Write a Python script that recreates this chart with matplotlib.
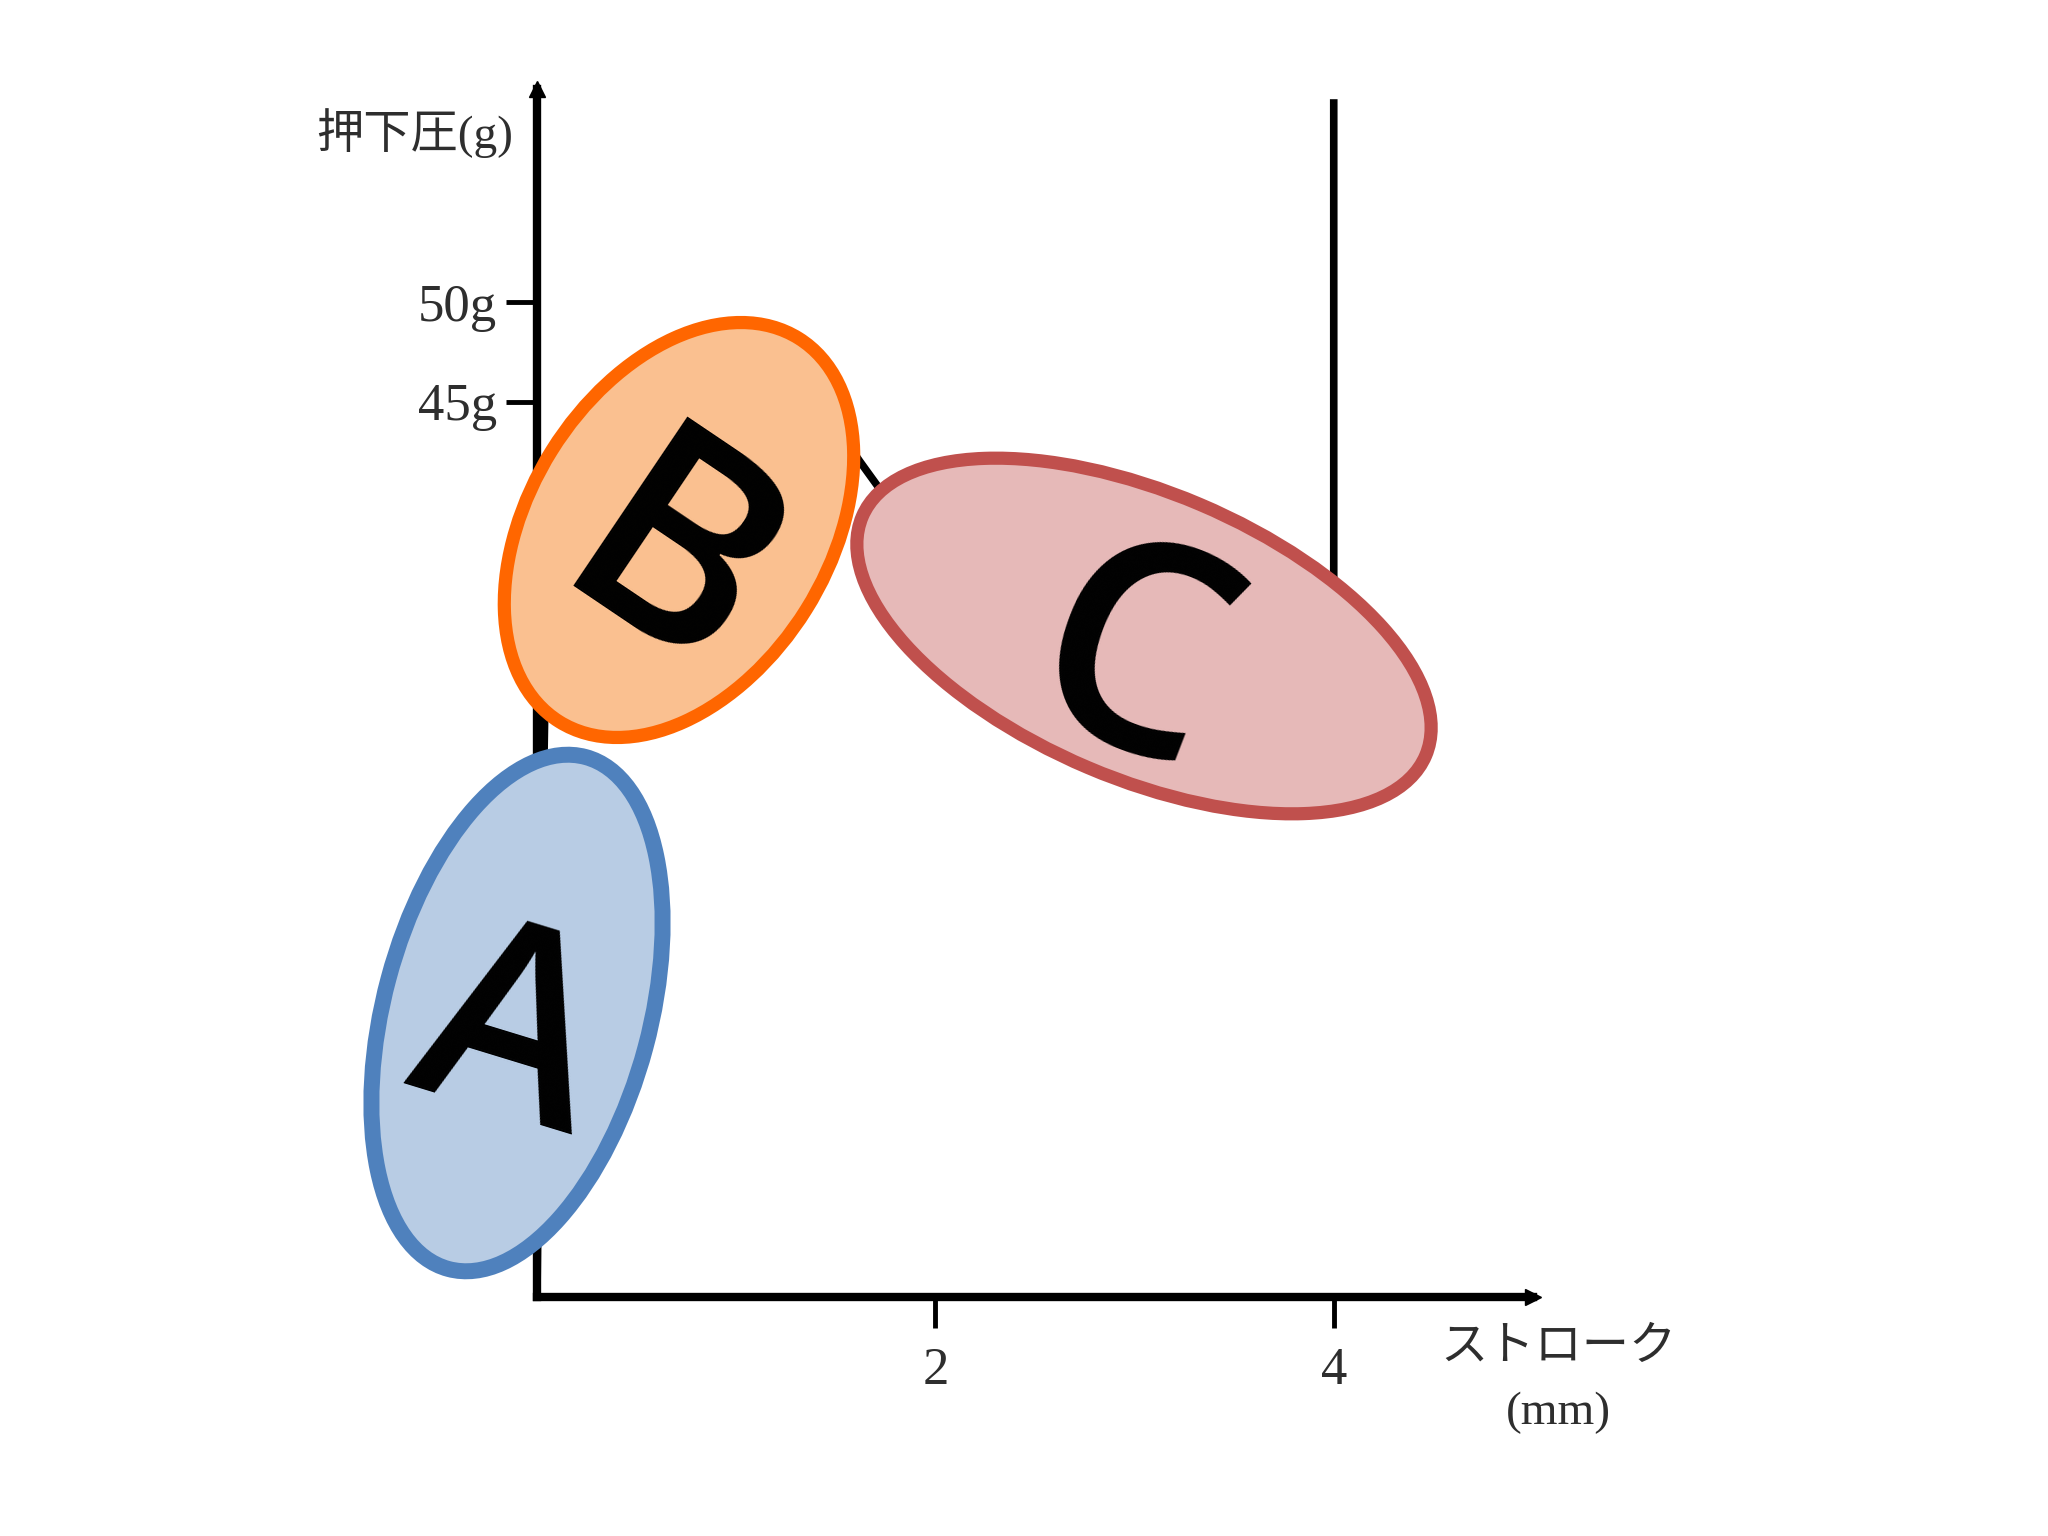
import matplotlib.pyplot as plt
from matplotlib.patches import Ellipse

plt.rcParams['font.family'] = ['Liberation Serif', 'Noto Sans CJK JP', 'DejaVu Sans']

# force-stroke curve (mostly hidden under the ellipses)
stroke = [0.0, 0.02, 0.04, 0.2, 0.6, 1.1, 1.4, 1.62, 1.75, 2.3, 3.0, 3.7, 4.0, 4.0]
force = [0.0, 18, 30, 38, 44, 46, 45.2, 42.0, 40.2, 34, 30, 30, 33, 60]

y_ticks = [45, 50]
y_tick_labels = ['45g', '50g']
x_ticks = [2, 4]
x_tick_labels = ['2', '4']

# region markers (pixel coordinates of the 2048x1536 canvas)
regions = ['A', 'B', 'C']
centres = [(517, 1013), (679, 530), (1144, 636)]
widths = [530, 452, 612]
heights = [266, 300, 286]
angles = [75, 58, -23]
faces = ['#B8CCE4', '#FAC090', '#E6B9B8']
edges = ['#4F81BD', '#FF6600', '#C0504D']
letter_pos = [(508, 1042), (664, 576), (1128, 674)]
letter_rot = [-17, -34, -21]
letter_size = [192, 205, 210]

txt = '#2e2e2e'

fig = plt.figure(figsize=(20.48, 15.36), dpi=100)
ax = fig.add_axes([0.2622, 0.1556, 0.4863, 0.7864])
ax.set_xlim(0, 5.0)
ax.set_ylim(0, 60.7)
ax.plot(stroke, force, color='black', lw=5.5, clip_on=False, zorder=2)

for s in ['top', 'right']:
    ax.spines[s].set_visible(False)
for s in ['left', 'bottom']:
    ax.spines[s].set_linewidth(6)
ax.plot(1, 0, '>k', ms=11, transform=ax.get_yaxis_transform(), clip_on=False)
ax.plot(0, 1, '^k', ms=11, transform=ax.get_xaxis_transform(), clip_on=False)

ax.set_yticks(y_ticks, y_tick_labels)
ax.set_xticks(x_ticks, x_tick_labels)
ax.tick_params(axis='both', length=22, width=3.5, labelsize=38, labelcolor=txt, pad=7)
ax.tick_params(axis='x', pad=14)

fig.text(0.2506, 0.9133, '押下圧(g)', ha='right', va='center', fontsize=34, color=txt)
ax.text(5.13, -2.6, 'ストローク', ha='center', va='center', fontsize=34, color=txt)
ax.text(5.13, -5.8, '(mm)', ha='center', va='center', fontsize=34, color=txt)

# overlay in pixel coordinates for the highlight ellipses
ov = fig.add_axes([0, 0, 1, 1])
ov.set_xlim(0, 2048)
ov.set_ylim(1536, 0)
ov.set_aspect('equal')
ov.axis('off')
lws = [11.5, 9.5, 9.5]
for i, name in enumerate(regions):
    # inverted y: negate angle so it reads counter-clockwise on screen
    e = Ellipse(centres[i], widths[i], heights[i], angle=-angles[i],
                facecolor=faces[i], edgecolor=edges[i], lw=lws[i])
    ov.add_patch(e)
    ov.text(letter_pos[i][0], letter_pos[i][1], name, ha='center', va='center',
            fontsize=letter_size[i], family='Open Sans', fontweight='semibold',
            rotation=letter_rot[i], color='black')

fig.savefig('out.png', dpi=100)
